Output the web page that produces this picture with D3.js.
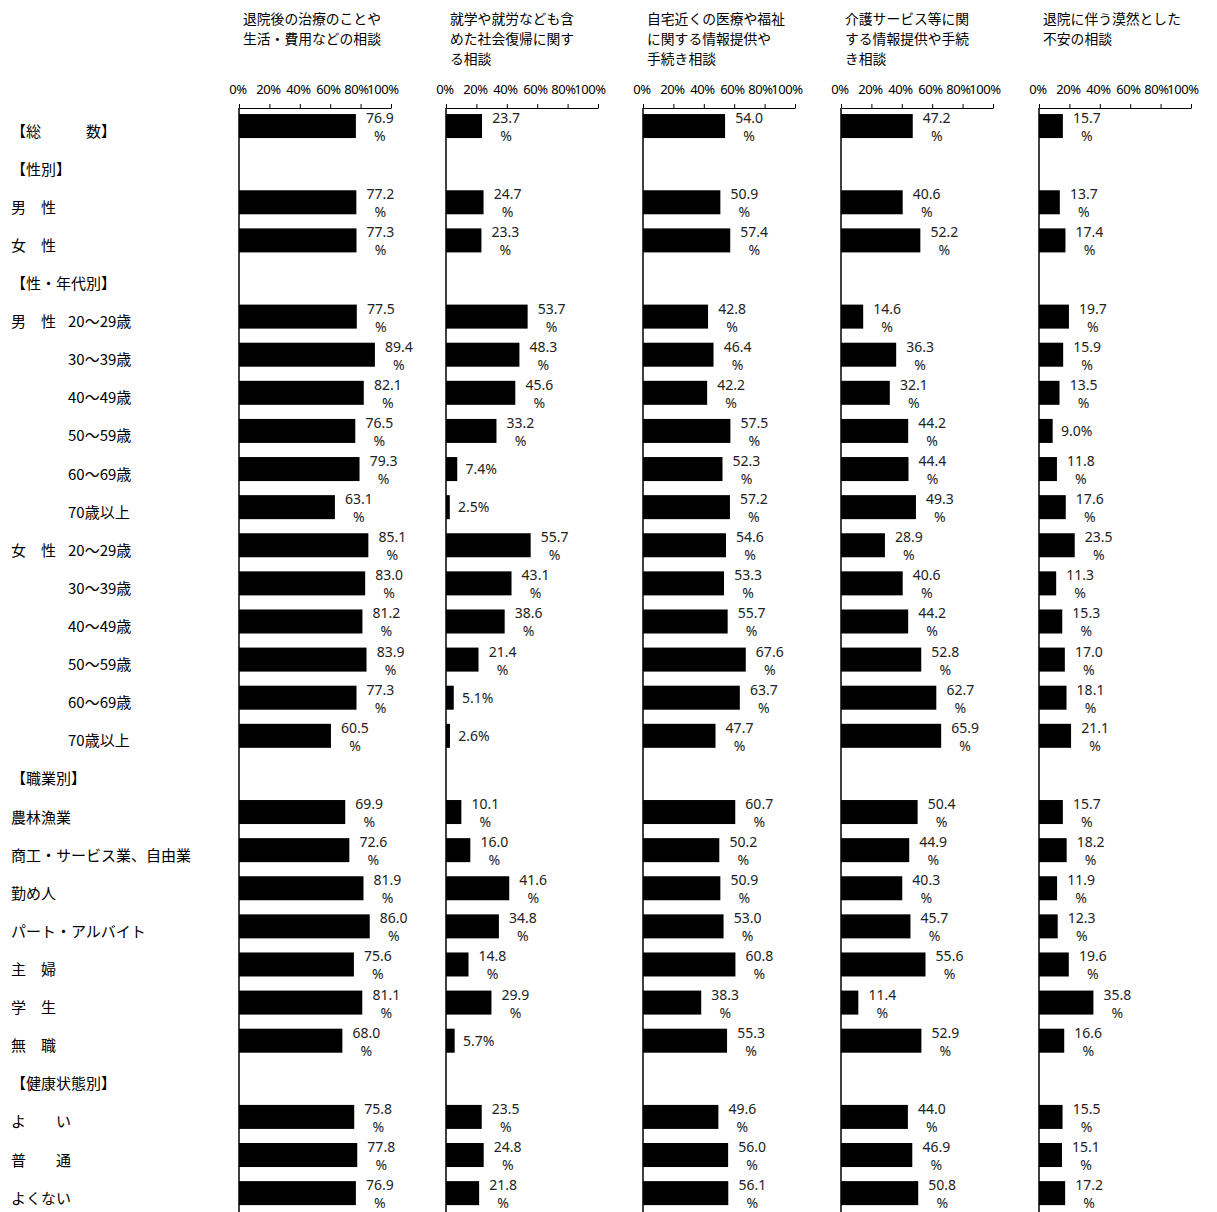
<!DOCTYPE html>
<html>
<head>
<meta charset="utf-8">
<script src="https://cdn.jsdelivr.net/npm/d3@7"></script>
<style>
  body { margin: 0; background: #fff; }
  text { white-space: pre; }
</style>
</head>
<body>
<div id="chart"></div>
<script>
// data
const rowLabels = [
  "【総　　　数】", "【性別】", "男　性", "女　性", "【性・年代別】",
  "男　性\t20～29歳", "\t30～39歳", "\t40～49歳", "\t50～59歳", "\t60～69歳", "\t70歳以上",
  "女　性\t20～29歳", "\t30～39歳", "\t40～49歳", "\t50～59歳", "\t60～69歳", "\t70歳以上",
  "【職業別】", "農林漁業", "商工・サービス業、自由業", "勤め人", "パート・アルバイト",
  "主　婦", "学　生", "無　職", "【健康状態別】", "よ　　い", "普　　通", "よくない"
]

const titles = [
  ["退院後の治療のことや", "生活・費用などの相談"],
  ["就学や就労なども含", "めた社会復帰に関す", "る相談"],
  ["自宅近くの医療や福祉", "に関する情報提供や", "手続き相談"],
  ["介護サービス等に関", "する情報提供や手続", "き相談"],
  ["退院に伴う漠然とした", "不安の相談"]
]

// null = header row (no bar)
const treatment = [76.9, null, 77.2, 77.3, null,
  77.5, 89.4, 82.1, 76.5, 79.3, 63.1,
  85.1, 83.0, 81.2, 83.9, 77.3, 60.5,
  null, 69.9, 72.6, 81.9, 86.0, 75.6, 81.1, 68.0,
  null, 75.8, 77.8, 76.9]
const returnToSociety = [23.7, null, 24.7, 23.3, null,
  53.7, 48.3, 45.6, 33.2, 7.4, 2.5,
  55.7, 43.1, 38.6, 21.4, 5.1, 2.6,
  null, 10.1, 16.0, 41.6, 34.8, 14.8, 29.9, 5.7,
  null, 23.5, 24.8, 21.8]
const localCare = [54.0, null, 50.9, 57.4, null,
  42.8, 46.4, 42.2, 57.5, 52.3, 57.2,
  54.6, 53.3, 55.7, 67.6, 63.7, 47.7,
  null, 60.7, 50.2, 50.9, 53.0, 60.8, 38.3, 55.3,
  null, 49.6, 56.0, 56.1]
const nursingCare = [47.2, null, 40.6, 52.2, null,
  14.6, 36.3, 32.1, 44.2, 44.4, 49.3,
  28.9, 40.6, 44.2, 52.8, 62.7, 65.9,
  null, 50.4, 44.9, 40.3, 45.7, 55.6, 11.4, 52.9,
  null, 44.0, 46.9, 50.8]
const anxiety = [15.7, null, 13.7, 17.4, null,
  19.7, 15.9, 13.5, 9.0, 11.8, 17.6,
  23.5, 11.3, 15.3, 17.0, 18.1, 21.1,
  null, 15.7, 18.2, 11.9, 12.3, 19.6, 35.8, 16.6,
  null, 15.5, 15.1, 17.2]

const series = [treatment, returnToSociety, localCare, nursingCare, anxiety]
const tickValues = [0, 20, 40, 60, 80, 100]

// const
const width = 1217
const height = 1212
const panelLeft = [239, 446, 643, 841, 1039]
const panelWidth = 152
const axisY = 108
const rowStep = 38.11
// excel squeezes the last tick labels to the left
const tickShift = [-1.5, -1.4, -1.8, -2.2, -4.6, -8.5]
const numFont = '"Noto Sans", "Noto Sans CJK JP", sans-serif'
const jpFont = '"Noto Sans CJK JP", sans-serif'

// svg
const svg = d3.select('#chart')
  .append('svg')
  .attr('width', width)
  .attr('height', height)

// y scale (rows)
const y = d3.scaleBand()
  .domain(d3.range(rowLabels.length))
  .range([107, 107 + rowLabels.length * rowStep])
  .paddingInner(0.37)
  .paddingOuter(0.185)

// row labels
const rows = svg.append('g')
  .attr('font-family', jpFont)
  .attr('font-size', 15)
  .attr('fill', '#000')
rowLabels.forEach((label, i) => {
  const parts = label.split('\t')
  const cy = y(i) + y.bandwidth() / 2 + 4
  rows.append('text')
    .attr('x', 11)
    .attr('y', cy)
    .attr('dominant-baseline', 'central')
    .text(parts[0])
  if (parts[1]) {
    rows.append('text')
      .attr('x', 68)
      .attr('y', cy)
      .attr('dominant-baseline', 'central')
      .text(parts[1])
  }
})

// panels
series.forEach((values, p) => {
  const x = d3.scaleLinear()
    .domain([0, 100])
    .range([panelLeft[p], panelLeft[p] + panelWidth])

  const g = svg.append('g')

  // title
  g.append('g')
    .selectAll('text')
    .data(titles[p])
    .join('text')
    .attr('x', x(0) + 4)
    .attr('y', (d, i) => 18 + i * 20)
    .attr('dominant-baseline', 'central')
    .attr('font-family', jpFont)
    .attr('font-size', 13.8)
    .attr('fill', '#000')
    .text(d => d)

  // x axis
  g.append('g')
    .attr('transform', `translate(0, ${axisY})`)
    .call(d3.axisTop(x).tickValues(tickValues).tickFormat(d => d + '%')
      .tickSize(4).tickSizeOuter(0).tickPadding(10))
    .call(a => a.selectAll('text')
      .attr('font-family', numFont)
      .attr('font-size', 13)
      .attr('letter-spacing', -0.4)
      .attr('fill', '#000')
      .attr('dx', (d, i) => tickShift[i]))
    .call(a => a.selectAll('line, path').attr('stroke', '#000'))

  // vertical baseline
  g.append('line')
    .attr('x1', x(0)).attr('x2', x(0))
    .attr('y1', axisY).attr('y2', height)
    .attr('stroke', '#000')
    .attr('stroke-width', 1.5)

  const rowsData = values.map((v, i) => ({ i, v })).filter(d => d.v !== null)

  // bars
  g.append('g')
    .selectAll('rect')
    .data(rowsData)
    .join('rect')
    .attr('x', x(0))
    .attr('y', d => y(d.i))
    .attr('width', d => x(d.v) - x(0))
    .attr('height', y.bandwidth())
    .attr('fill', '#000')

  // value labels
  const labels = g.append('g')
    .attr('font-family', numFont)
    .attr('font-size', 14)
    .attr('fill', '#222')
    .attr('text-anchor', 'middle')
  rowsData.forEach(d => {
    const cx = x(d.v) + 24
    const cy = y(d.i) + y.bandwidth() / 2
    if (d.v < 10) {
      labels.append('text')
        .attr('x', cx)
        .attr('y', cy + 5)
        .text(d.v.toFixed(1) + '%')
    } else {
      labels.append('text')
        .attr('x', cx)
        .attr('y', cy - 3)
        .text(d.v.toFixed(1))
      labels.append('text')
        .attr('x', cx)
        .attr('y', cy + 15)
        .text('%')
    }
  })
})
</script>
</body>
</html>
